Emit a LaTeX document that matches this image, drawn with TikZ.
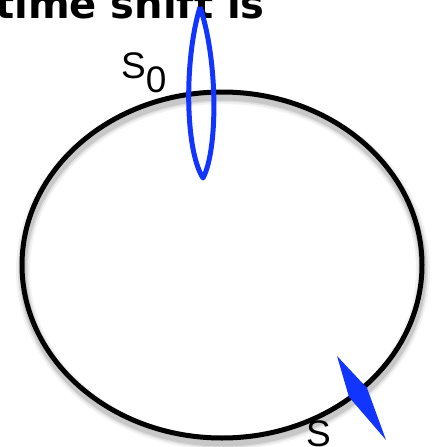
\documentclass[tikz,border=0pt]{standalone}
\usepackage{fontspec}
\setmainfont{DejaVu Sans}
\newfontfamily\labelfont{Liberation Sans}
\usepackage{tikz}
\definecolor{lensblue}{RGB}{18,52,255}

\begin{document}
\begin{tikzpicture}[x=1pt, y=-1pt, line join=round,
    statelabel/.style={inner sep=0, anchor=base west, font=\labelfont\fontsize{37}{37}\selectfont},
    orbit/.style={line width=5pt, black}]
  \useasboundingbox (0,0) rectangle (435,447);
  % caption, cut off by the top edge
  \node[inner sep=0, anchor=base east, font=\bfseries\fontsize{40}{40}\selectfont] (caption) at (265,18) {time shift is};
  % soft shadow of the orbit
  \foreach \w/\o in {14/0.05, 10/0.08, 7/0.1}
    \draw[line width=\w pt, black, opacity=\o] (223,270) ellipse [x radius=200, y radius=173];
  \draw[orbit] (222,265) ellipse [x radius=200, y radius=173];
  % lens through S0
  \coordinate (lenstop) at (200,7);
  \coordinate (lensbot) at (203,178);
  \draw[lensblue, line width=5pt] (lenstop) .. controls (184,60) and (185,150) .. (lensbot)
    .. controls (218,150) and (218,60) .. (lenstop);
  % filled lens at S
  \fill[lensblue] (337,356) -- (367,388) -- (386,440) -- (349,397) -- cycle;
  \node[statelabel] (szero) at (121,78) {S\raisebox{-14pt}{0}};
  \node[statelabel] (sone) at (306,446) {S};
\end{tikzpicture}
\end{document}
